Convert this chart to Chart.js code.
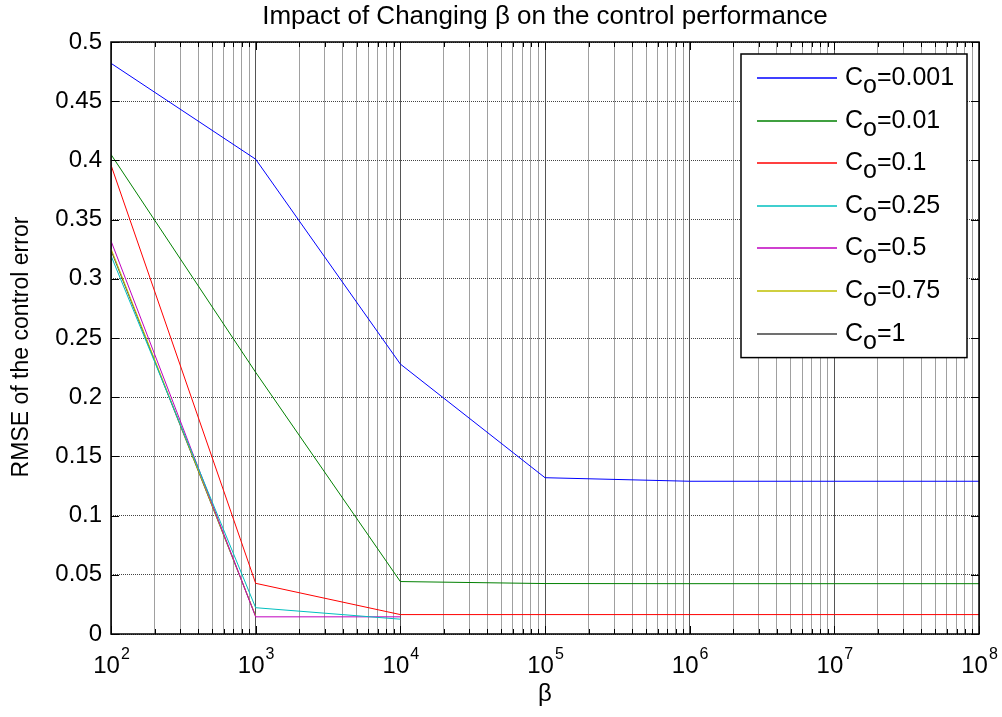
<!DOCTYPE html>
<html>
<head>
<meta charset="utf-8">
<script src="https://cdn.jsdelivr.net/npm/chart.js@4.4.1/dist/chart.umd.min.js"></script>
<style>
html, body { margin: 0; padding: 0; background: #fff; }
</style>
</head>
<body>
<canvas id="chart1" width="1002" height="717"></canvas>
<script>
const FONT = "'Liberation Sans', Arial, sans-serif";

// ----------------------------
// Data
// ----------------------------
const betaValues = [1e2, 1e3, 1e4, 1e5, 1e6, 1e7, 1e8];
const coLabels = ["0.001", "0.01", "0.1", "0.25", "0.5", "0.75", "1"];
const lineColors = ["#0000ff", "#008000", "#ff0000", "#00bfbf", "#bf00bf", "#bfbf00", "#404040"];

const rmseCo0001 = [0.482, 0.401, 0.228, 0.132, 0.129, 0.129, 0.129];
const rmseCo001  = [0.405, 0.221, 0.0443, 0.0426, 0.0425, 0.0425, 0.0425];
const rmseCo01   = [0.396, 0.0428, 0.0164, 0.0164, 0.0164, 0.0164, 0.0164];
const rmseCo025  = [0.3195, 0.0222, 0.0125, null, null, null, null];
const rmseCo05   = [0.332, 0.0145, 0.0145, null, null, null, null];
const rmseCo075  = [0.3254, 0.0152, null, null, null, null, null];
const rmseCo1    = [0.324, 0.0150, null, null, null, null, null];

const yTickValues = [0, 0.05, 0.1, 0.15, 0.2, 0.25, 0.3, 0.35, 0.4, 0.45, 0.5];
const xDecades = [1e2, 1e3, 1e4, 1e5, 1e6, 1e7, 1e8];
const xExponents = ["2", "3", "4", "5", "6", "7", "8"];
const minorSteps = [1, 2, 3, 4, 5, 6, 7, 8, 9];

const titleText = "Impact of Changing \u03b2 on the control performance";
const xTitle = "\u03b2";
const yTitle = "RMSE of the control error";

// ----------------------------
// Helpers
// ----------------------------
const allSeries = [rmseCo0001, rmseCo001, rmseCo01, rmseCo025, rmseCo05, rmseCo075, rmseCo1];

function isDecade(v) {
  return xDecades.some(d => Math.abs(v - d) / d < 1e-9);
}

// all log ticks 1..9 x 10^n plus the last decade
const xTickValues = [];
xDecades.slice(0, -1).forEach(d => minorSteps.forEach(m => xTickValues.push(m * d)));
xTickValues.push(xDecades[xDecades.length - 1]);

const datasets = allSeries.map((s, i) => ({
  label: "C_o=" + coLabels[i],
  data: betaValues.map((b, j) => ({ x: b, y: s[j] })),
  borderColor: lineColors[i],
  backgroundColor: lineColors[i],
  borderWidth: 1,
  pointRadius: 0,
  fill: false,
  tension: 0,
  spanGaps: false
}));

// ----------------------------
// Plugin: titles, frame with inward ticks, x labels, legend
// ----------------------------
const matlabLook = {
  id: "matlabLook",
  afterDatasetsDraw(chart) {
    const ctx = chart.ctx;
    const a = chart.chartArea;
    const xs = chart.scales.x, ys = chart.scales.y;
    ctx.save();
    ctx.setLineDash([]);

    // frame
    ctx.strokeStyle = "#000";
    ctx.lineWidth = 1.5;
    ctx.strokeRect(a.left, a.top, a.right - a.left, a.bottom - a.top);

    // inward tick marks
    ctx.lineWidth = 1;
    ctx.beginPath();
    xTickValues.forEach(v => {
      const px = Math.round(xs.getPixelForValue(v)) + 0.5;
      const len = isDecade(v) ? 8 : 5;
      ctx.moveTo(px, a.bottom); ctx.lineTo(px, a.bottom - len);
      ctx.moveTo(px, a.top); ctx.lineTo(px, a.top + len);
    });
    yTickValues.forEach(v => {
      const py = Math.round(ys.getPixelForValue(v)) + 0.5;
      ctx.moveTo(a.left, py); ctx.lineTo(a.left + 8, py);
      ctx.moveTo(a.right, py); ctx.lineTo(a.right - 8, py);
    });
    ctx.stroke();

    // x tick labels 10^n
    ctx.fillStyle = "#000";
    ctx.textBaseline = "alphabetic";
    ctx.textAlign = "left";
    xDecades.forEach((d, i) => {
      const px = xs.getPixelForValue(d);
      ctx.font = "24px " + FONT;
      const wBase = ctx.measureText("10").width;
      ctx.font = "16px " + FONT;
      const wExp = ctx.measureText(xExponents[i]).width;
      const x0 = px - (wBase + wExp) / 2;
      ctx.font = "24px " + FONT;
      ctx.fillText("10", x0, a.bottom + 39);
      ctx.font = "16px " + FONT;
      ctx.fillText(xExponents[i], x0 + wBase + 1, a.bottom + 25);
    });

    // title
    ctx.font = "26px " + FONT;
    ctx.textAlign = "center";
    ctx.fillText(titleText, (a.left + a.right) / 2, 24);

    // y title (rotated)
    ctx.save();
    ctx.translate(28, 347);
    ctx.rotate(-Math.PI / 2);
    ctx.font = "23px " + FONT;
    ctx.textAlign = "center";
    ctx.fillText(yTitle, 0, 0);
    ctx.restore();

    // legend box
    const lx = 741, ly = 54, lw = 226, rowH = 42.6;
    const lh = 24 + rowH * (datasets.length - 1) + 24;
    ctx.fillStyle = "#fff";
    ctx.fillRect(lx, ly, lw, lh);
    ctx.strokeStyle = "#000";
    ctx.lineWidth = 1.5;
    ctx.strokeRect(lx, ly, lw, lh);
    chart.data.datasets.forEach((dsx, i) => {
      const ry = ly + 24 + i * rowH;
      ctx.strokeStyle = dsx.borderColor;
      ctx.lineWidth = 1.5;
      ctx.beginPath();
      ctx.moveTo(757, Math.round(ry));
      ctx.lineTo(837, Math.round(ry));
      ctx.stroke();
      ctx.fillStyle = "#000";
      ctx.textAlign = "left";
      ctx.font = "25px " + FONT;
      let tx = 845;
      ctx.fillText("C", tx, ry + 7);
      tx += ctx.measureText("C").width;
      ctx.fillText("o", tx, ry + 15);
      tx += ctx.measureText("o").width;
      ctx.fillText("=" + coLabels[i], tx, ry + 7);
    });
    ctx.restore();
  }
};

// ----------------------------
// Chart
// ----------------------------
const ctx = document.getElementById("chart1").getContext("2d");
new Chart(ctx, {
  type: "line",
  data: { datasets },
  plugins: [matlabLook],
  options: {
    responsive: false,
    animation: false,
    events: [],
    layout: { padding: { top: 42, right: 23, left: 0, bottom: 0 } },
    plugins: {
      legend: { display: false },
      tooltip: { enabled: false },
      title: { display: false }
    },
    scales: {
      x: {
        type: "logarithmic",
        min: 1e2,
        max: 1e8,
        afterBuildTicks: s => { s.ticks = xTickValues.map(v => ({ value: v })); },
        afterFit: s => { s.height = 83; },
        ticks: { display: false },
        grid: {
          color: c => (c.tick && isDecade(c.tick.value)) ? "#555" : "#a0a0a0",
          lineWidth: 1,
          drawTicks: false
        },
        border: { display: false },
        title: {
          display: true, text: xTitle, color: "#000",
          font: { family: FONT, size: 24 }, padding: { top: 0, bottom: 8 }
        }
      },
      y: {
        min: 0,
        max: 0.5,
        afterBuildTicks: s => { s.ticks = yTickValues.map(v => ({ value: v })); },
        afterFit: s => { s.width = 111; },
        ticks: {
          color: "#000", padding: 9,
          font: { family: FONT, size: 24 },
          callback: v => String(+v.toFixed(2))
        },
        grid: { color: "#444", lineWidth: 1, drawTicks: false },
        border: { display: false, dash: [1, 1] },
        title: { display: false }
      }
    }
  }
});
</script>
</body>
</html>
